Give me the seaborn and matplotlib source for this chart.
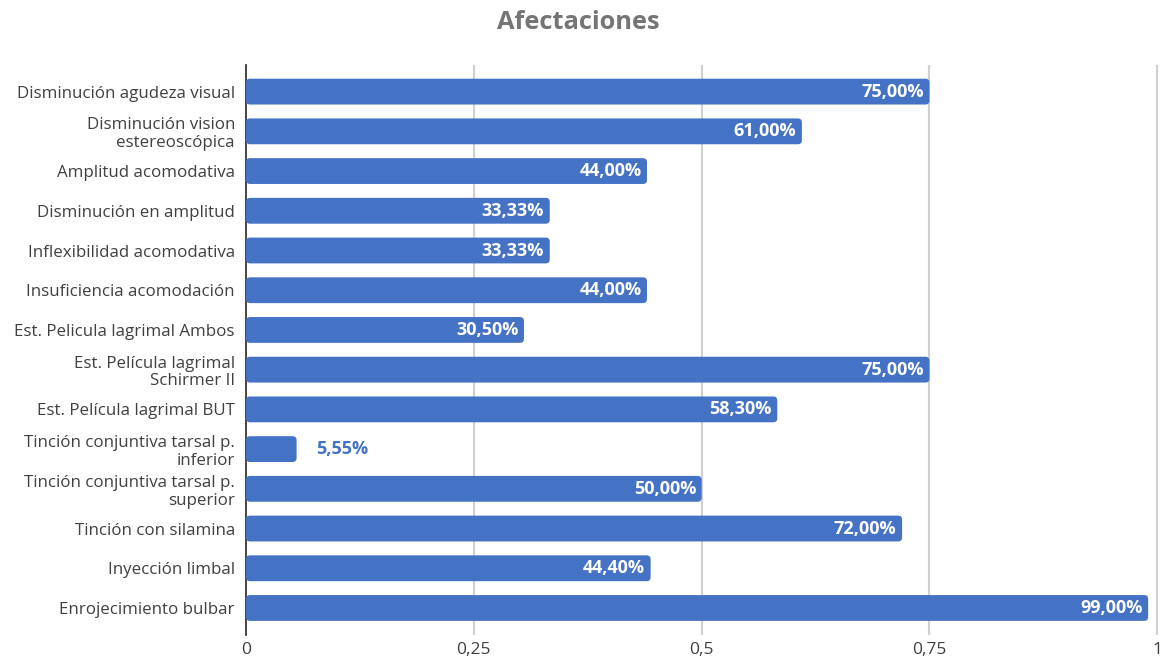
import matplotlib
matplotlib.use("Agg")
import matplotlib.pyplot as plt
from matplotlib.patches import FancyBboxPatch
import seaborn as sns
import pandas as pd

categorias = [
    "Disminución agudeza visual",
    "Disminución vision\nestereoscópica",
    "Amplitud acomodativa",
    "Disminución en amplitud",
    "Inflexibilidad acomodativa",
    "Insuficiencia acomodación",
    "Est. Pelicula lagrimal Ambos",
    "Est. Película lagrimal\nSchirmer II",
    "Est. Película lagrimal BUT",
    "Tinción conjuntiva tarsal p.\ninferior",
    "Tinción conjuntiva tarsal p.\nsuperior",
    "Tinción con silamina",
    "Inyección limbal",
    "Enrojecimiento bulbar",
]
valores = [0.75, 0.61, 0.44, 0.3333, 0.3333, 0.44, 0.305, 0.75, 0.583,
           0.0555, 0.50, 0.72, 0.444, 0.99]
etiquetas = ["75,00%", "61,00%", "44,00%", "33,33%", "33,33%", "44,00%",
             "30,50%", "75,00%", "58,30%", "5,55%", "50,00%", "72,00%",
             "44,40%", "99,00%"]
ticks_x = [0, 0.25, 0.5, 0.75, 1]
ticks_x_txt = ["0", "0,25", "0,5", "0,75", "1"]

AZUL = "#4472C4"
sns.set_theme(style="white")
plt.rcParams["font.family"] = ["Open Sans", "DejaVu Sans"]

df = pd.DataFrame({"categoria": categorias, "valor": valores})

fig = plt.figure(figsize=(11.76, 6.62), dpi=100)
ax = fig.add_axes([0.2092, 0.0408, 0.9864 - 0.2092, 0.9018 - 0.0408])

sns.barplot(data=df, y="categoria", x="valor", orient="h", color=AZUL,
            saturation=1, width=0.65, ax=ax, zorder=3)

# rounded bar ends
px_per_x = fig.get_figwidth() * fig.dpi * (0.9864 - 0.2092) / 1.0
ylim = (13.68, -0.67)
px_per_y = fig.get_figheight() * fig.dpi * (0.9018 - 0.0408) / (ylim[0] - ylim[1])
radius_px = 4
for p in list(ax.patches):
    x0, y0 = p.get_x(), p.get_y()
    w, h = p.get_width(), p.get_height()
    p.remove()
    fb = FancyBboxPatch((x0, y0), w, h,
                        boxstyle=f"round,pad=0,rounding_size={radius_px / px_per_x}",
                        mutation_aspect=px_per_x / px_per_y,
                        facecolor=AZUL, edgecolor="none", zorder=3)
    ax.add_patch(fb)

ax.set_xlim(0, 1.003)
ax.set_ylim(*ylim)
ax.set_xticks(ticks_x)
ax.set_xticklabels(ticks_x_txt)
ax.set_xlabel("")
ax.set_ylabel("")
ax.tick_params(axis="x", length=0, labelsize=12.5, labelcolor="#404040", pad=5)
ax.tick_params(axis="y", length=0, labelsize=12.2, labelcolor="#404040", pad=8)
for lbl in ax.get_yticklabels():
    lbl.set_horizontalalignment("right")
    lbl.set_multialignment("right")
    lbl.set_linespacing(1.15)

for x in ticks_x[1:]:
    ax.axvline(x, color="#d0d0d0", lw=1.5, zorder=1)

for s in ["top", "right", "bottom"]:
    ax.spines[s].set_visible(False)
ax.spines["left"].set_color("#262626")
ax.spines["left"].set_linewidth(1.2)
ax.spines["left"].set_zorder(2)

for i, (v, t) in enumerate(zip(valores, etiquetas)):
    if v < 0.1:
        ax.annotate(t, (v, i), xytext=(14, 0), textcoords="offset points",
                    ha="left", va="center", color=AZUL, fontsize=13,
                    fontweight="bold", zorder=4)
    else:
        ax.annotate(t, (v, i), xytext=(-4, 0), textcoords="offset points",
                    ha="right", va="center", color="white", fontsize=13,
                    fontweight="bold", zorder=4)

fig.text(0.4915, 0.966, "Afectaciones", ha="center", va="center",
         fontsize=18.3, fontweight="bold", color="#757575")

fig.savefig("out.png", dpi=100)
